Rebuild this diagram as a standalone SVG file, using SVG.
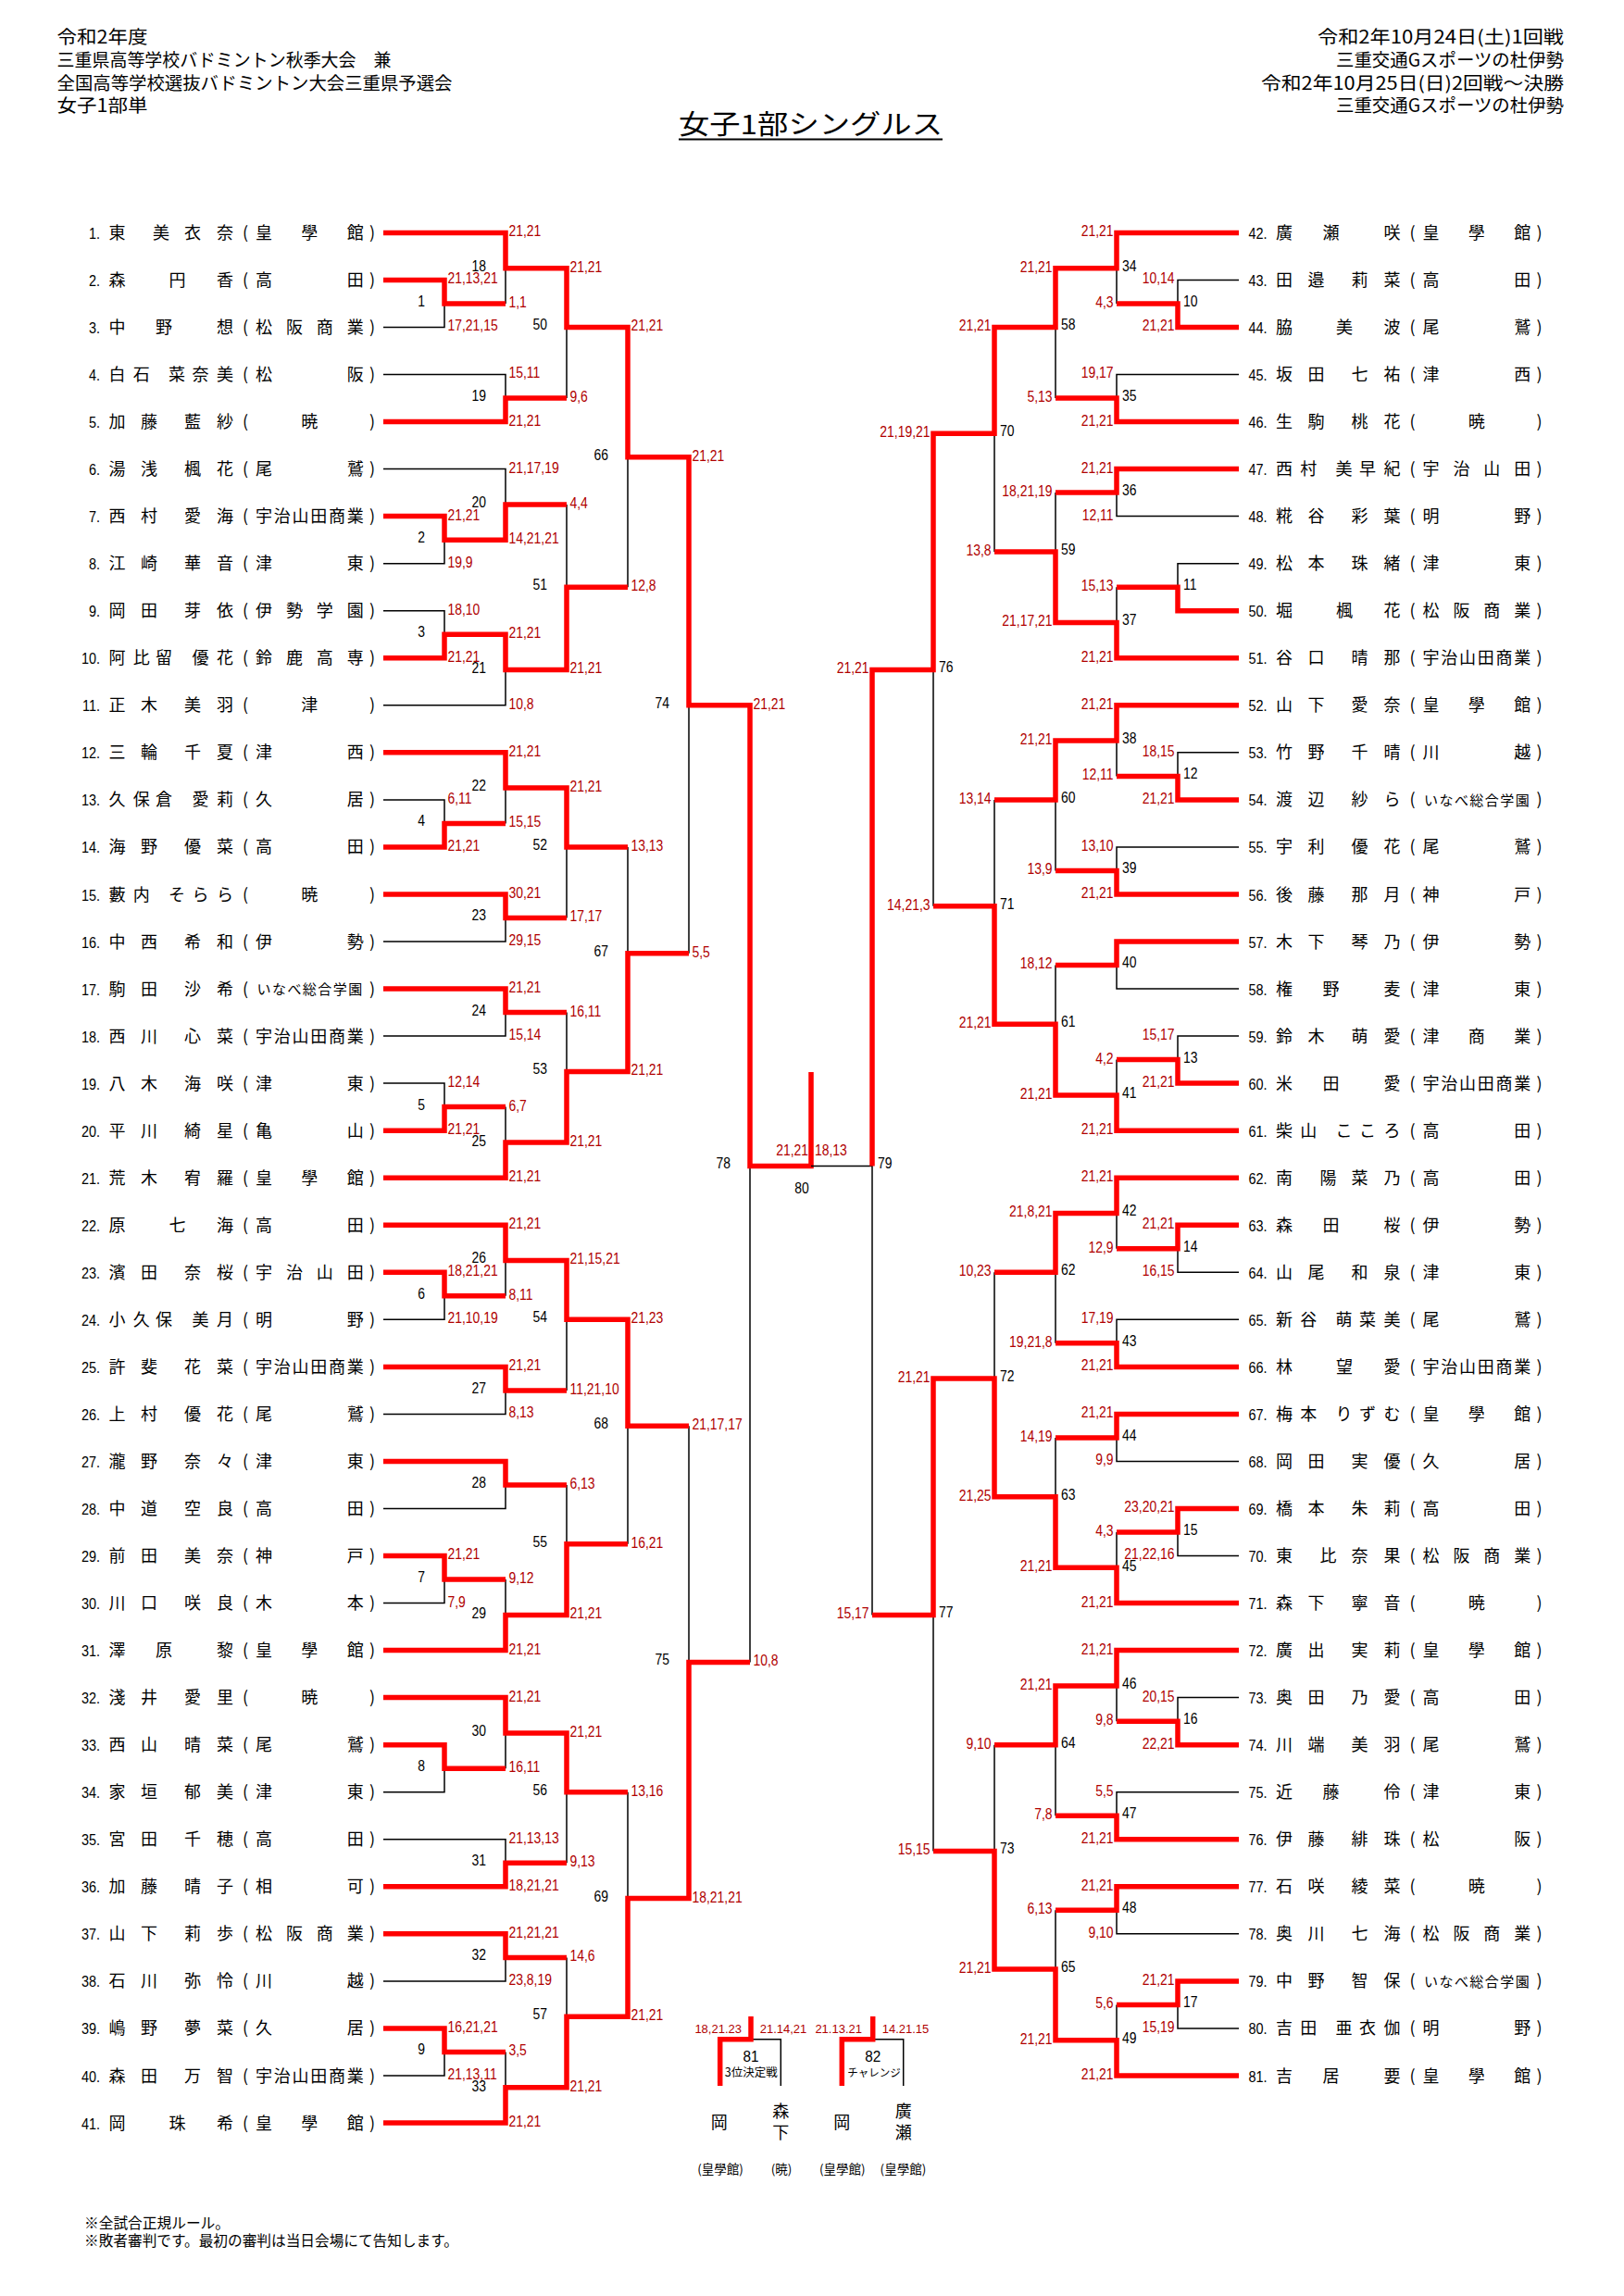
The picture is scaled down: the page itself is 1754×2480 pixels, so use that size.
<svg xmlns="http://www.w3.org/2000/svg" width="1754" height="2480" viewBox="0 0 1754 2480">
<style>
text{font-family:"Noto Sans CJK JP","Noto Sans CJK SC",sans-serif;fill:#000}
.hd{font-size:19.5px}
.nm{font-size:18px;text-anchor:middle}
.sm{font-size:15px}
.no{font-family:"Liberation Sans",Arial,sans-serif;font-size:17px;text-anchor:end}
.sc text{font-family:"Liberation Sans",Arial,sans-serif;font-size:17px;fill:#b00000}
.mn text{font-family:"Liberation Sans",Arial,sans-serif;font-size:17px;fill:#000}
.e text{text-anchor:end}
.k{fill:none;stroke:#000;stroke-width:1.5}
.r{fill:none;stroke:#ff0000;stroke-width:5.5;stroke-linejoin:miter}
.ms{font-family:"Liberation Sans",Arial,sans-serif;font-size:13px;fill:#b00000}
</style>
<rect width="1754" height="2480" fill="#fff"/>
<g id="header">
<text class="hd" x="61.5" y="47.4" textLength="98" lengthAdjust="spacingAndGlyphs">令和2年度</text>
<text class="hd" x="61.5" y="72.4" textLength="361" lengthAdjust="spacingAndGlyphs">三重県高等学校バドミントン秋季大会　兼</text>
<text class="hd" x="61.5" y="96.9" textLength="427" lengthAdjust="spacingAndGlyphs">全国高等学校選抜バドミントン大会三重県予選会</text>
<text class="hd" x="61.5" y="121.4" textLength="98" lengthAdjust="spacingAndGlyphs">女子1部単</text>
<text class="hd" x="1423" y="47.4" textLength="266" lengthAdjust="spacingAndGlyphs">令和2年10月24日(土)1回戦</text>
<text class="hd" x="1443" y="72.4" textLength="246" lengthAdjust="spacingAndGlyphs">三重交通Gスポーツの杜伊勢</text>
<text class="hd" x="1362" y="96.9" textLength="327" lengthAdjust="spacingAndGlyphs">令和2年10月25日(日)2回戦～決勝</text>
<text class="hd" x="1443" y="121.4" textLength="246" lengthAdjust="spacingAndGlyphs">三重交通Gスポーツの杜伊勢</text>
<text x="733" y="144.5" font-size="29" textLength="285" lengthAdjust="spacingAndGlyphs">女子1部シングルス</text>
<line x1="733" y1="150.5" x2="1018" y2="150.5" stroke="#000" stroke-width="2"/>
</g>
<g id="connectors">
<g id="left-lines">
<path class="k" d="M414,353.5H480V328M414,608.7H480V583.2M414,659.7H480V685.2M414,863.9H480V889.4M414,1170.1H480V1195.6M414,1425.3H480V1399.8M414,1731.6H480V1706M414,1935.7H480V1910.2M414,2242H480V2216.4M546,328V289.7M414,404.5H546V430M414,506.6H546V544.9M414,761.8H546V723.5M546,889.4V851.1M414,1017H546V991.5M414,1119.1H546V1093.6M546,1195.6V1233.9M546,1399.8V1361.5M414,1527.4H546V1501.9M414,1629.5H546V1604M546,1706V1744.4M546,1910.2V1871.9M414,1986.8H546V2012.3M414,2139.9H546V2114.4M546,2216.4V2254.7M612,430V353.5M612,544.9V634.2M612,991.5V914.9M612,1093.6V1157.4M612,1501.9V1425.3M612,1604V1667.8M612,2012.3V1935.7M612,2114.4V2178.2M678,634.2V493.8M678,914.9V1029.8M678,1667.8V1540.2M678,1935.7V2050.6M744,1029.8V761.8M744,1540.2V1795.4M810,1795.4V1259.5"/>
<path class="r" d="M414,302.4H480V328H546M414,557.6H480V583.2H546M414,710.8H480V685.2H546M414,914.9H480V889.4H546M414,1221.2H480V1195.6H546M414,1374.3H480V1399.8H546M414,1680.5H480V1706H546M414,1884.7H480V1910.2H546M414,2190.9H480V2216.4H546M414,251.4H546V289.7H612M414,455.6H546V430H612M480,583.2H546V544.9H612M480,685.2H546V723.5H612M414,812.8H546V851.1H612M414,966H546V991.5H612M414,1068H546V1093.6H612M414,1272.2H546V1233.9H612M414,1323.2H546V1361.5H612M414,1476.4H546V1501.9H612M414,1578.4H546V1604H612M414,1782.6H546V1744.4H612M414,1833.6H546V1871.9H612M414,2037.8H546V2012.3H612M414,2088.8H546V2114.4H612M414,2293H546V2254.7H612M546,289.7H612V353.5H678M546,723.5H612V634.2H678M546,851.1H612V914.9H678M546,1233.9H612V1157.4H678M546,1361.5H612V1425.3H678M546,1744.4H612V1667.8H678M546,1871.9H612V1935.7H678M546,2254.7H612V2178.2H678M612,353.5H678V493.8H744M612,1157.4H678V1029.8H744M612,1425.3H678V1540.2H744M612,2178.2H678V2050.6H744M678,493.8H744V761.8H810M678,2050.6H744V1795.4H810M744,761.8H810V1259.5H876V1158"/>
</g>
<g id="right-lines" transform="matrix(-1 0 0 1 1752 0)">
<path class="k" d="M414,302.4H480V328M414,608.7H480V634.2M414,812.8H480V838.4M414,1119.1H480V1144.6M414,1374.3H480V1348.8M414,1680.5H480V1655M414,1833.6H480V1859.2M414,2190.9H480V2165.4M546,328V289.7M414,404.5H546V430M414,557.6H546V532.1M546,634.2V672.5M546,838.4V800.1M414,914.9H546V940.4M414,1068H546V1042.5M546,1144.6V1182.9M546,1348.8V1310.5M414,1425.3H546V1450.8M414,1578.4H546V1552.9M546,1655V1693.3M546,1859.2V1820.9M414,1935.7H546V1961.2M414,2088.8H546V2063.3M546,2165.4V2203.7M612,430V353.5M612,532.1V595.9M612,940.4V863.9M612,1042.5V1106.3M612,1450.8V1374.3M612,1552.9V1616.7M612,1961.2V1884.7M612,2063.3V2127.1M678,595.9V468.3M678,863.9V978.7M678,1374.3V1489.1M678,1884.7V1999.5M744,978.7V723.5M744,1999.5V1744.4M810,1744.4V1259.5H876"/>
<path class="r" d="M414,353.5H480V328H546M414,659.7H480V634.2H546M414,863.9H480V838.4H546M414,1170.1H480V1144.6H546M414,1323.2H480V1348.8H546M414,1629.5H480V1655H546M414,1884.7H480V1859.2H546M414,2139.9H480V2165.4H546M414,251.4H546V289.7H612M414,455.6H546V430H612M414,506.6H546V532.1H612M414,710.8H546V672.5H612M414,761.8H546V800.1H612M414,966H546V940.4H612M414,1017H546V1042.5H612M414,1221.2H546V1182.9H612M414,1272.2H546V1310.5H612M414,1476.4H546V1450.8H612M414,1527.4H546V1552.9H612M414,1731.6H546V1693.3H612M414,1782.6H546V1820.9H612M414,1986.8H546V1961.2H612M414,2037.8H546V2063.3H612M414,2242H546V2203.7H612M546,289.7H612V353.5H678M546,672.5H612V595.9H678M546,800.1H612V863.9H678M546,1182.9H612V1106.3H678M546,1310.5H612V1374.3H678M546,1693.3H612V1616.7H678M546,1820.9H612V1884.7H678M546,2203.7H612V2127.1H678M612,353.5H678V468.3H744M612,1106.3H678V978.7H744M612,1616.7H678V1489.1H744M612,2127.1H678V1999.5H744M678,468.3H744V723.5H810M678,1489.1H744V1744.4H810M744,723.5H810V1259.5"/>
</g>
<g id="playoff-lines">
<path class="k" d="M811,2202.7H843.3V2253M942.7,2202.7H975.7V2253"/>
<path class="r" d="M777.7,2253V2202.7H811V2178M909.3,2253V2202.7H942.7V2178"/>
</g>
</g>
<g id="scores">
<g class="sc" transform="translate(483.5 0) scale(.82 1)"><text y="306.4">21,13,21</text><text y="357.5">17,21,15</text><text y="561.6">21,21</text><text y="612.7">19,9</text><text y="663.7">18,10</text><text y="714.8">21,21</text><text y="867.9">6,11</text><text y="918.9">21,21</text><text y="1174.1">12,14</text><text y="1225.2">21,21</text><text y="1378.3">18,21,21</text><text y="1429.3">21,10,19</text><text y="1684.5">21,21</text><text y="1735.6">7,9</text><text y="2194.9">16,21,21</text><text y="2246">21,13,11</text></g>
<g class="sc" transform="translate(549.5 0) scale(.82 1)"><text y="255.4">21,21</text><text y="332">1,1</text><text y="408.5">15,11</text><text y="459.6">21,21</text><text y="510.6">21,17,19</text><text y="587.2">14,21,21</text><text y="689.2">21,21</text><text y="765.8">10,8</text><text y="816.8">21,21</text><text y="893.4">15,15</text><text y="970">30,21</text><text y="1021">29,15</text><text y="1072">21,21</text><text y="1123.1">15,14</text><text y="1199.6">6,7</text><text y="1276.2">21,21</text><text y="1327.2">21,21</text><text y="1403.8">8,11</text><text y="1480.4">21,21</text><text y="1531.4">8,13</text><text y="1710">9,12</text><text y="1786.6">21,21</text><text y="1837.6">21,21</text><text y="1914.2">16,11</text><text y="1990.8">21,13,13</text><text y="2041.8">18,21,21</text><text y="2092.8">21,21,21</text><text y="2143.9">23,8,19</text><text y="2220.4">3,5</text><text y="2297">21,21</text></g>
<g class="sc" transform="translate(615.5 0) scale(.82 1)"><text y="293.7">21,21</text><text y="434">9,6</text><text y="548.9">4,4</text><text y="727.5">21,21</text><text y="855.1">21,21</text><text y="995.5">17,17</text><text y="1097.6">16,11</text><text y="1237.9">21,21</text><text y="1365.5">21,15,21</text><text y="1505.9">11,21,10</text><text y="1608">6,13</text><text y="1748.4">21,21</text><text y="1875.9">21,21</text><text y="2016.3">9,13</text><text y="2118.4">14,6</text><text y="2258.7">21,21</text></g>
<g class="sc" transform="translate(681.5 0) scale(.82 1)"><text y="357.5">21,21</text><text y="638.2">12,8</text><text y="918.9">13,13</text><text y="1161.4">21,21</text><text y="1429.3">21,23</text><text y="1671.8">16,21</text><text y="1939.7">13,16</text><text y="2182.2">21,21</text></g>
<g class="sc" transform="translate(747.5 0) scale(.82 1)"><text y="497.8">21,21</text><text y="1033.8">5,5</text><text y="1544.2">21,17,17</text><text y="2054.6">18,21,21</text></g>
<g class="sc" transform="translate(813.5 0) scale(.82 1)"><text y="765.8">21,21</text><text y="1799.4">10,8</text></g>
<g class="sc e" transform="translate(1268.5 0) scale(.82 1)"><text y="306.4">10,14</text><text y="357.5">21,21</text><text y="816.8">18,15</text><text y="867.9">21,21</text><text y="1123.1">15,17</text><text y="1174.1">21,21</text><text y="1327.2">21,21</text><text y="1378.3">16,15</text><text y="1633.5">23,20,21</text><text y="1684.5">21,22,16</text><text y="1837.6">20,15</text><text y="1888.7">22,21</text><text y="2143.9">21,21</text><text y="2194.9">15,19</text></g>
<g class="sc e" transform="translate(1202.5 0) scale(.82 1)"><text y="255.4">21,21</text><text y="332">4,3</text><text y="408.5">19,17</text><text y="459.6">21,21</text><text y="510.6">21,21</text><text y="561.6">12,11</text><text y="638.2">15,13</text><text y="714.8">21,21</text><text y="765.8">21,21</text><text y="842.4">12,11</text><text y="918.9">13,10</text><text y="970">21,21</text><text y="1148.6">4,2</text><text y="1225.2">21,21</text><text y="1276.2">21,21</text><text y="1352.8">12,9</text><text y="1429.3">17,19</text><text y="1480.4">21,21</text><text y="1531.4">21,21</text><text y="1582.4">9,9</text><text y="1659">4,3</text><text y="1735.6">21,21</text><text y="1786.6">21,21</text><text y="1863.2">9,8</text><text y="1939.7">5,5</text><text y="1990.8">21,21</text><text y="2041.8">21,21</text><text y="2092.8">9,10</text><text y="2169.4">5,6</text><text y="2246">21,21</text></g>
<g class="sc e" transform="translate(1136.5 0) scale(.82 1)"><text y="293.7">21,21</text><text y="434">5,13</text><text y="536.1">18,21,19</text><text y="676.5">21,17,21</text><text y="804.1">21,21</text><text y="944.4">13,9</text><text y="1046.5">18,12</text><text y="1186.9">21,21</text><text y="1314.5">21,8,21</text><text y="1454.8">19,21,8</text><text y="1556.9">14,19</text><text y="1697.3">21,21</text><text y="1824.9">21,21</text><text y="1965.2">7,8</text><text y="2067.3">6,13</text><text y="2207.7">21,21</text></g>
<g class="sc e" transform="translate(1070.5 0) scale(.82 1)"><text y="357.5">21,21</text><text y="599.9">13,8</text><text y="867.9">13,14</text><text y="1110.3">21,21</text><text y="1378.3">10,23</text><text y="1620.7">21,25</text><text y="1888.7">9,10</text><text y="2131.1">21,21</text></g>
<g class="sc e" transform="translate(1004.5 0) scale(.82 1)"><text y="472.3">21,19,21</text><text y="982.7">14,21,3</text><text y="1493.1">21,21</text><text y="2003.5">15,15</text></g>
<g class="sc e" transform="translate(938.5 0) scale(.82 1)"><text y="727.5">21,21</text><text y="1748.4">15,17</text></g>
<g class="sc e" transform="translate(873 0) scale(.82 1)"><text y="1248">21,21</text></g>
<g class="sc" transform="translate(880 0) scale(.82 1)"><text y="1248">18,13</text></g>
<text class="ms" x="801" y="2195.5" text-anchor="end">18,21.23</text>
<text class="ms" x="820.7" y="2195.5">21.14,21</text>
<text class="ms" x="931" y="2195.5" text-anchor="end">21.13.21</text>
<text class="ms" x="952.7" y="2195.5">14.21.15</text>
</g>
<g id="match-numbers">
<g class="mn e" transform="translate(459 0) scale(.82 1)"><text y="331">1</text><text y="586.2">2</text><text y="688.2">3</text><text y="892.4">4</text><text y="1198.6">5</text><text y="1402.8">6</text><text y="1709">7</text><text y="1913.2">8</text><text y="2219.4">9</text></g>
<g class="mn e" transform="translate(525 0) scale(.82 1)"><text y="292.7">18</text><text y="433">19</text><text y="547.9">20</text><text y="727.5">21</text><text y="854.1">22</text><text y="994.5">23</text><text y="1096.6">24</text><text y="1237.9">25</text><text y="1364.5">26</text><text y="1504.9">27</text><text y="1607">28</text><text y="1748.4">29</text><text y="1874.9">30</text><text y="2015.3">31</text><text y="2117.4">32</text><text y="2258.7">33</text></g>
<g class="mn e" transform="translate(591 0) scale(.82 1)"><text y="356.5">50</text><text y="637.2">51</text><text y="917.9">52</text><text y="1160.4">53</text><text y="1428.3">54</text><text y="1670.8">55</text><text y="1938.7">56</text><text y="2181.2">57</text></g>
<g class="mn e" transform="translate(657 0) scale(.82 1)"><text y="496.8">66</text><text y="1032.8">67</text><text y="1543.2">68</text><text y="2053.6">69</text></g>
<g class="mn e" transform="translate(723 0) scale(.82 1)"><text y="764.8">74</text><text y="1798.4">75</text></g>
<g class="mn e" transform="translate(789 0) scale(.82 1)"><text y="1262.5">78</text></g>
<g class="mn" transform="translate(1278 0) scale(.82 1)"><text y="331">10</text><text y="637.2">11</text><text y="841.4">12</text><text y="1147.6">13</text><text y="1351.8">14</text><text y="1658">15</text><text y="1862.2">16</text><text y="2168.4">17</text></g>
<g class="mn" transform="translate(1212 0) scale(.82 1)"><text y="292.7">34</text><text y="433">35</text><text y="535.1">36</text><text y="675.5">37</text><text y="803.1">38</text><text y="943.4">39</text><text y="1045.5">40</text><text y="1185.9">41</text><text y="1313.5">42</text><text y="1453.8">43</text><text y="1555.9">44</text><text y="1697.3">45</text><text y="1823.9">46</text><text y="1964.2">47</text><text y="2066.3">48</text><text y="2206.7">49</text></g>
<g class="mn" transform="translate(1146 0) scale(.82 1)"><text y="356.5">58</text><text y="598.9">59</text><text y="866.9">60</text><text y="1109.3">61</text><text y="1377.3">62</text><text y="1619.7">63</text><text y="1887.7">64</text><text y="2130.1">65</text></g>
<g class="mn" transform="translate(1080 0) scale(.82 1)"><text y="471.3">70</text><text y="981.7">71</text><text y="1492.1">72</text><text y="2002.5">73</text></g>
<g class="mn" transform="translate(1014 0) scale(.82 1)"><text y="726.5">76</text><text y="1747.4">77</text></g>
<g class="mn" transform="translate(948 0) scale(.82 1)"><text y="1262.5">79</text></g>
<g class="mn" transform="translate(866 0) scale(.82 1)"><text y="1289" text-anchor="middle">80</text></g>
<g class="mn" transform="translate(811 0) scale(.9 1)"><text y="2227" text-anchor="middle" font-size="16">81</text></g>
<g class="mn" transform="translate(942.7 0) scale(.9 1)"><text y="2227" text-anchor="middle" font-size="16">82</text></g>
<text x="811.3" y="2243" font-size="12.5" text-anchor="middle">3位決定戦</text>
<text x="944" y="2243" font-size="11.5" text-anchor="middle">チャレンジ</text>
</g>
<g id="players-left">
<g id="p1" transform="translate(0 251.4)"><text class="no" transform="translate(108 6.5) scale(.85 1)">1.</text><text class="nm" x="126.6 174 208 243" y="6.5">東美衣奈</text><text class="nm" x="265 285 334.35 383.7 402" y="6.5">(皇學館)</text></g>
<g id="p2" transform="translate(0 302.4)"><text class="no" transform="translate(108 6.5) scale(.85 1)">2.</text><text class="nm" x="126.6 191.5 243" y="6.5">森円香</text><text class="nm" x="265 285 383.7 402" y="6.5">(高田)</text></g>
<g id="p3" transform="translate(0 353.5)"><text class="no" transform="translate(108 6.5) scale(.85 1)">3.</text><text class="nm" x="126.6 177 243" y="6.5">中野想</text><text class="nm" x="265 285 317.9 350.8 383.7 402" y="6.5">(松阪商業)</text></g>
<g id="p4" transform="translate(0 404.5)"><text class="no" transform="translate(108 6.5) scale(.85 1)">4.</text><text class="nm" x="126.6 152.7 191 216.5 243" y="6.5">白石菜奈美</text><text class="nm" x="265 285 383.7 402" y="6.5">(松阪)</text></g>
<g id="p5" transform="translate(0 455.6)"><text class="no" transform="translate(108 6.5) scale(.85 1)">5.</text><text class="nm" x="126.6 161 208 243" y="6.5">加藤藍紗</text><text class="nm" x="265 334.35 402" y="6.5">(暁)</text></g>
<g id="p6" transform="translate(0 506.6)"><text class="no" transform="translate(108 6.5) scale(.85 1)">6.</text><text class="nm" x="126.6 161 208 243" y="6.5">湯浅楓花</text><text class="nm" x="265 285 383.7 402" y="6.5">(尾鷲)</text></g>
<g id="p7" transform="translate(0 557.6)"><text class="no" transform="translate(108 6.5) scale(.85 1)">7.</text><text class="nm" x="126.6 161 208 243" y="6.5">西村愛海</text><text class="nm" x="265 285 304.7 324.5 344.2 363.9 383.7 402" y="6.5">(宇治山田商業)</text></g>
<g id="p8" transform="translate(0 608.7)"><text class="no" transform="translate(108 6.5) scale(.85 1)">8.</text><text class="nm" x="126.6 161 208 243" y="6.5">江崎華音</text><text class="nm" x="265 285 383.7 402" y="6.5">(津東)</text></g>
<g id="p9" transform="translate(0 659.7)"><text class="no" transform="translate(108 6.5) scale(.85 1)">9.</text><text class="nm" x="126.6 161 208 243" y="6.5">岡田芽依</text><text class="nm" x="265 285 317.9 350.8 383.7 402" y="6.5">(伊勢学園)</text></g>
<g id="p10" transform="translate(0 710.8)"><text class="no" transform="translate(108 6.5) scale(.85 1)">10.</text><text class="nm" x="126.6 152.7 177 216.5 243" y="6.5">阿比留優花</text><text class="nm" x="265 285 317.9 350.8 383.7 402" y="6.5">(鈴鹿高専)</text></g>
<g id="p11" transform="translate(0 761.8)"><text class="no" transform="translate(108 6.5) scale(.85 1)">11.</text><text class="nm" x="126.6 161 208 243" y="6.5">正木美羽</text><text class="nm" x="265 334.35 402" y="6.5">(津)</text></g>
<g id="p12" transform="translate(0 812.8)"><text class="no" transform="translate(108 6.5) scale(.85 1)">12.</text><text class="nm" x="126.6 161 208 243" y="6.5">三輪千夏</text><text class="nm" x="265 285 383.7 402" y="6.5">(津西)</text></g>
<g id="p13" transform="translate(0 863.9)"><text class="no" transform="translate(108 6.5) scale(.85 1)">13.</text><text class="nm" x="126.6 152.7 177 216.5 243" y="6.5">久保倉愛莉</text><text class="nm" x="265 285 383.7 402" y="6.5">(久居)</text></g>
<g id="p14" transform="translate(0 914.9)"><text class="no" transform="translate(108 6.5) scale(.85 1)">14.</text><text class="nm" x="126.6 161 208 243" y="6.5">海野優菜</text><text class="nm" x="265 285 383.7 402" y="6.5">(高田)</text></g>
<g id="p15" transform="translate(0 966)"><text class="no" transform="translate(108 6.5) scale(.85 1)">15.</text><text class="nm" x="126.6 152.7 191 216.5 243" y="6.5">藪内そらら</text><text class="nm" x="265 334.35 402" y="6.5">(暁)</text></g>
<g id="p16" transform="translate(0 1017)"><text class="no" transform="translate(108 6.5) scale(.85 1)">16.</text><text class="nm" x="126.6 161 208 243" y="6.5">中西希和</text><text class="nm" x="265 285 383.7 402" y="6.5">(伊勢)</text></g>
<g id="p17" transform="translate(0 1068)"><text class="no" transform="translate(108 6.5) scale(.85 1)">17.</text><text class="nm" x="126.6 161 208 243" y="6.5">駒田沙希</text><text class="nm" x="265" y="6.5">(</text><text class="nm sm" x="285 301.45 317.9 334.35 350.8 367.25 383.7" y="5.8">いなべ総合学園</text><text class="nm" x="402" y="6.5">)</text></g>
<g id="p18" transform="translate(0 1119.1)"><text class="no" transform="translate(108 6.5) scale(.85 1)">18.</text><text class="nm" x="126.6 161 208 243" y="6.5">西川心菜</text><text class="nm" x="265 285 304.7 324.5 344.2 363.9 383.7 402" y="6.5">(宇治山田商業)</text></g>
<g id="p19" transform="translate(0 1170.1)"><text class="no" transform="translate(108 6.5) scale(.85 1)">19.</text><text class="nm" x="126.6 161 208 243" y="6.5">八木海咲</text><text class="nm" x="265 285 383.7 402" y="6.5">(津東)</text></g>
<g id="p20" transform="translate(0 1221.2)"><text class="no" transform="translate(108 6.5) scale(.85 1)">20.</text><text class="nm" x="126.6 161 208 243" y="6.5">平川綺星</text><text class="nm" x="265 285 383.7 402" y="6.5">(亀山)</text></g>
<g id="p21" transform="translate(0 1272.2)"><text class="no" transform="translate(108 6.5) scale(.85 1)">21.</text><text class="nm" x="126.6 161 208 243" y="6.5">荒木宥羅</text><text class="nm" x="265 285 334.35 383.7 402" y="6.5">(皇學館)</text></g>
<g id="p22" transform="translate(0 1323.2)"><text class="no" transform="translate(108 6.5) scale(.85 1)">22.</text><text class="nm" x="126.6 191.5 243" y="6.5">原七海</text><text class="nm" x="265 285 383.7 402" y="6.5">(高田)</text></g>
<g id="p23" transform="translate(0 1374.3)"><text class="no" transform="translate(108 6.5) scale(.85 1)">23.</text><text class="nm" x="126.6 161 208 243" y="6.5">濱田奈桜</text><text class="nm" x="265 285 317.9 350.8 383.7 402" y="6.5">(宇治山田)</text></g>
<g id="p24" transform="translate(0 1425.3)"><text class="no" transform="translate(108 6.5) scale(.85 1)">24.</text><text class="nm" x="126.6 152.7 177 216.5 243" y="6.5">小久保美月</text><text class="nm" x="265 285 383.7 402" y="6.5">(明野)</text></g>
<g id="p25" transform="translate(0 1476.4)"><text class="no" transform="translate(108 6.5) scale(.85 1)">25.</text><text class="nm" x="126.6 161 208 243" y="6.5">許斐花菜</text><text class="nm" x="265 285 304.7 324.5 344.2 363.9 383.7 402" y="6.5">(宇治山田商業)</text></g>
<g id="p26" transform="translate(0 1527.4)"><text class="no" transform="translate(108 6.5) scale(.85 1)">26.</text><text class="nm" x="126.6 161 208 243" y="6.5">上村優花</text><text class="nm" x="265 285 383.7 402" y="6.5">(尾鷲)</text></g>
<g id="p27" transform="translate(0 1578.4)"><text class="no" transform="translate(108 6.5) scale(.85 1)">27.</text><text class="nm" x="126.6 161 208 243" y="6.5">瀧野奈々</text><text class="nm" x="265 285 383.7 402" y="6.5">(津東)</text></g>
<g id="p28" transform="translate(0 1629.5)"><text class="no" transform="translate(108 6.5) scale(.85 1)">28.</text><text class="nm" x="126.6 161 208 243" y="6.5">中道空良</text><text class="nm" x="265 285 383.7 402" y="6.5">(高田)</text></g>
<g id="p29" transform="translate(0 1680.5)"><text class="no" transform="translate(108 6.5) scale(.85 1)">29.</text><text class="nm" x="126.6 161 208 243" y="6.5">前田美奈</text><text class="nm" x="265 285 383.7 402" y="6.5">(神戸)</text></g>
<g id="p30" transform="translate(0 1731.6)"><text class="no" transform="translate(108 6.5) scale(.85 1)">30.</text><text class="nm" x="126.6 161 208 243" y="6.5">川口咲良</text><text class="nm" x="265 285 383.7 402" y="6.5">(木本)</text></g>
<g id="p31" transform="translate(0 1782.6)"><text class="no" transform="translate(108 6.5) scale(.85 1)">31.</text><text class="nm" x="126.6 177 243" y="6.5">澤原黎</text><text class="nm" x="265 285 334.35 383.7 402" y="6.5">(皇學館)</text></g>
<g id="p32" transform="translate(0 1833.6)"><text class="no" transform="translate(108 6.5) scale(.85 1)">32.</text><text class="nm" x="126.6 161 208 243" y="6.5">淺井愛里</text><text class="nm" x="265 334.35 402" y="6.5">(暁)</text></g>
<g id="p33" transform="translate(0 1884.7)"><text class="no" transform="translate(108 6.5) scale(.85 1)">33.</text><text class="nm" x="126.6 161 208 243" y="6.5">西山晴菜</text><text class="nm" x="265 285 383.7 402" y="6.5">(尾鷲)</text></g>
<g id="p34" transform="translate(0 1935.7)"><text class="no" transform="translate(108 6.5) scale(.85 1)">34.</text><text class="nm" x="126.6 161 208 243" y="6.5">家垣郁美</text><text class="nm" x="265 285 383.7 402" y="6.5">(津東)</text></g>
<g id="p35" transform="translate(0 1986.8)"><text class="no" transform="translate(108 6.5) scale(.85 1)">35.</text><text class="nm" x="126.6 161 208 243" y="6.5">宮田千穂</text><text class="nm" x="265 285 383.7 402" y="6.5">(高田)</text></g>
<g id="p36" transform="translate(0 2037.8)"><text class="no" transform="translate(108 6.5) scale(.85 1)">36.</text><text class="nm" x="126.6 161 208 243" y="6.5">加藤晴子</text><text class="nm" x="265 285 383.7 402" y="6.5">(相可)</text></g>
<g id="p37" transform="translate(0 2088.8)"><text class="no" transform="translate(108 6.5) scale(.85 1)">37.</text><text class="nm" x="126.6 161 208 243" y="6.5">山下莉歩</text><text class="nm" x="265 285 317.9 350.8 383.7 402" y="6.5">(松阪商業)</text></g>
<g id="p38" transform="translate(0 2139.9)"><text class="no" transform="translate(108 6.5) scale(.85 1)">38.</text><text class="nm" x="126.6 161 208 243" y="6.5">石川弥怜</text><text class="nm" x="265 285 383.7 402" y="6.5">(川越)</text></g>
<g id="p39" transform="translate(0 2190.9)"><text class="no" transform="translate(108 6.5) scale(.85 1)">39.</text><text class="nm" x="126.6 161 208 243" y="6.5">嶋野夢菜</text><text class="nm" x="265 285 383.7 402" y="6.5">(久居)</text></g>
<g id="p40" transform="translate(0 2242)"><text class="no" transform="translate(108 6.5) scale(.85 1)">40.</text><text class="nm" x="126.6 161 208 243" y="6.5">森田万智</text><text class="nm" x="265 285 304.7 324.5 344.2 363.9 383.7 402" y="6.5">(宇治山田商業)</text></g>
<g id="p41" transform="translate(0 2293)"><text class="no" transform="translate(108 6.5) scale(.85 1)">41.</text><text class="nm" x="126.6 191.5 243" y="6.5">岡珠希</text><text class="nm" x="265 285 334.35 383.7 402" y="6.5">(皇學館)</text></g>
</g>
<g id="players-right">
<g id="p42" transform="translate(1260.5 251.4)"><text class="no" transform="translate(108 6.5) scale(.85 1)">42.</text><text class="nm" x="126.6 177 243" y="6.5">廣瀬咲</text><text class="nm" x="265 285 334.35 383.7 402" y="6.5">(皇學館)</text></g>
<g id="p43" transform="translate(1260.5 302.4)"><text class="no" transform="translate(108 6.5) scale(.85 1)">43.</text><text class="nm" x="126.6 161 208 243" y="6.5">田邉莉菜</text><text class="nm" x="265 285 383.7 402" y="6.5">(高田)</text></g>
<g id="p44" transform="translate(1260.5 353.5)"><text class="no" transform="translate(108 6.5) scale(.85 1)">44.</text><text class="nm" x="126.6 191.5 243" y="6.5">脇美波</text><text class="nm" x="265 285 383.7 402" y="6.5">(尾鷲)</text></g>
<g id="p45" transform="translate(1260.5 404.5)"><text class="no" transform="translate(108 6.5) scale(.85 1)">45.</text><text class="nm" x="126.6 161 208 243" y="6.5">坂田七祐</text><text class="nm" x="265 285 383.7 402" y="6.5">(津西)</text></g>
<g id="p46" transform="translate(1260.5 455.6)"><text class="no" transform="translate(108 6.5) scale(.85 1)">46.</text><text class="nm" x="126.6 161 208 243" y="6.5">生駒桃花</text><text class="nm" x="265 334.35 402" y="6.5">(暁)</text></g>
<g id="p47" transform="translate(1260.5 506.6)"><text class="no" transform="translate(108 6.5) scale(.85 1)">47.</text><text class="nm" x="126.6 152.7 191 216.5 243" y="6.5">西村美早紀</text><text class="nm" x="265 285 317.9 350.8 383.7 402" y="6.5">(宇治山田)</text></g>
<g id="p48" transform="translate(1260.5 557.6)"><text class="no" transform="translate(108 6.5) scale(.85 1)">48.</text><text class="nm" x="126.6 161 208 243" y="6.5">糀谷彩葉</text><text class="nm" x="265 285 383.7 402" y="6.5">(明野)</text></g>
<g id="p49" transform="translate(1260.5 608.7)"><text class="no" transform="translate(108 6.5) scale(.85 1)">49.</text><text class="nm" x="126.6 161 208 243" y="6.5">松本珠緒</text><text class="nm" x="265 285 383.7 402" y="6.5">(津東)</text></g>
<g id="p50" transform="translate(1260.5 659.7)"><text class="no" transform="translate(108 6.5) scale(.85 1)">50.</text><text class="nm" x="126.6 191.5 243" y="6.5">堀楓花</text><text class="nm" x="265 285 317.9 350.8 383.7 402" y="6.5">(松阪商業)</text></g>
<g id="p51" transform="translate(1260.5 710.8)"><text class="no" transform="translate(108 6.5) scale(.85 1)">51.</text><text class="nm" x="126.6 161 208 243" y="6.5">谷口晴那</text><text class="nm" x="265 285 304.7 324.5 344.2 363.9 383.7 402" y="6.5">(宇治山田商業)</text></g>
<g id="p52" transform="translate(1260.5 761.8)"><text class="no" transform="translate(108 6.5) scale(.85 1)">52.</text><text class="nm" x="126.6 161 208 243" y="6.5">山下愛奈</text><text class="nm" x="265 285 334.35 383.7 402" y="6.5">(皇學館)</text></g>
<g id="p53" transform="translate(1260.5 812.8)"><text class="no" transform="translate(108 6.5) scale(.85 1)">53.</text><text class="nm" x="126.6 161 208 243" y="6.5">竹野千晴</text><text class="nm" x="265 285 383.7 402" y="6.5">(川越)</text></g>
<g id="p54" transform="translate(1260.5 863.9)"><text class="no" transform="translate(108 6.5) scale(.85 1)">54.</text><text class="nm" x="126.6 161 208 243" y="6.5">渡辺紗ら</text><text class="nm" x="265" y="6.5">(</text><text class="nm sm" x="285 301.45 317.9 334.35 350.8 367.25 383.7" y="5.8">いなべ総合学園</text><text class="nm" x="402" y="6.5">)</text></g>
<g id="p55" transform="translate(1260.5 914.9)"><text class="no" transform="translate(108 6.5) scale(.85 1)">55.</text><text class="nm" x="126.6 161 208 243" y="6.5">宇利優花</text><text class="nm" x="265 285 383.7 402" y="6.5">(尾鷲)</text></g>
<g id="p56" transform="translate(1260.5 966)"><text class="no" transform="translate(108 6.5) scale(.85 1)">56.</text><text class="nm" x="126.6 161 208 243" y="6.5">後藤那月</text><text class="nm" x="265 285 383.7 402" y="6.5">(神戸)</text></g>
<g id="p57" transform="translate(1260.5 1017)"><text class="no" transform="translate(108 6.5) scale(.85 1)">57.</text><text class="nm" x="126.6 161 208 243" y="6.5">木下琴乃</text><text class="nm" x="265 285 383.7 402" y="6.5">(伊勢)</text></g>
<g id="p58" transform="translate(1260.5 1068)"><text class="no" transform="translate(108 6.5) scale(.85 1)">58.</text><text class="nm" x="126.6 177 243" y="6.5">権野麦</text><text class="nm" x="265 285 383.7 402" y="6.5">(津東)</text></g>
<g id="p59" transform="translate(1260.5 1119.1)"><text class="no" transform="translate(108 6.5) scale(.85 1)">59.</text><text class="nm" x="126.6 161 208 243" y="6.5">鈴木萌愛</text><text class="nm" x="265 285 334.35 383.7 402" y="6.5">(津商業)</text></g>
<g id="p60" transform="translate(1260.5 1170.1)"><text class="no" transform="translate(108 6.5) scale(.85 1)">60.</text><text class="nm" x="126.6 177 243" y="6.5">米田愛</text><text class="nm" x="265 285 304.7 324.5 344.2 363.9 383.7 402" y="6.5">(宇治山田商業)</text></g>
<g id="p61" transform="translate(1260.5 1221.2)"><text class="no" transform="translate(108 6.5) scale(.85 1)">61.</text><text class="nm" x="126.6 152.7 191 216.5 243" y="6.5">柴山こころ</text><text class="nm" x="265 285 383.7 402" y="6.5">(高田)</text></g>
<g id="p62" transform="translate(1260.5 1272.2)"><text class="no" transform="translate(108 6.5) scale(.85 1)">62.</text><text class="nm" x="126.6 174 208 243" y="6.5">南陽菜乃</text><text class="nm" x="265 285 383.7 402" y="6.5">(高田)</text></g>
<g id="p63" transform="translate(1260.5 1323.2)"><text class="no" transform="translate(108 6.5) scale(.85 1)">63.</text><text class="nm" x="126.6 177 243" y="6.5">森田桜</text><text class="nm" x="265 285 383.7 402" y="6.5">(伊勢)</text></g>
<g id="p64" transform="translate(1260.5 1374.3)"><text class="no" transform="translate(108 6.5) scale(.85 1)">64.</text><text class="nm" x="126.6 161 208 243" y="6.5">山尾和泉</text><text class="nm" x="265 285 383.7 402" y="6.5">(津東)</text></g>
<g id="p65" transform="translate(1260.5 1425.3)"><text class="no" transform="translate(108 6.5) scale(.85 1)">65.</text><text class="nm" x="126.6 152.7 191 216.5 243" y="6.5">新谷萌菜美</text><text class="nm" x="265 285 383.7 402" y="6.5">(尾鷲)</text></g>
<g id="p66" transform="translate(1260.5 1476.4)"><text class="no" transform="translate(108 6.5) scale(.85 1)">66.</text><text class="nm" x="126.6 191.5 243" y="6.5">林望愛</text><text class="nm" x="265 285 304.7 324.5 344.2 363.9 383.7 402" y="6.5">(宇治山田商業)</text></g>
<g id="p67" transform="translate(1260.5 1527.4)"><text class="no" transform="translate(108 6.5) scale(.85 1)">67.</text><text class="nm" x="126.6 152.7 191 216.5 243" y="6.5">梅本りずむ</text><text class="nm" x="265 285 334.35 383.7 402" y="6.5">(皇學館)</text></g>
<g id="p68" transform="translate(1260.5 1578.4)"><text class="no" transform="translate(108 6.5) scale(.85 1)">68.</text><text class="nm" x="126.6 161 208 243" y="6.5">岡田実優</text><text class="nm" x="265 285 383.7 402" y="6.5">(久居)</text></g>
<g id="p69" transform="translate(1260.5 1629.5)"><text class="no" transform="translate(108 6.5) scale(.85 1)">69.</text><text class="nm" x="126.6 161 208 243" y="6.5">橋本朱莉</text><text class="nm" x="265 285 383.7 402" y="6.5">(高田)</text></g>
<g id="p70" transform="translate(1260.5 1680.5)"><text class="no" transform="translate(108 6.5) scale(.85 1)">70.</text><text class="nm" x="126.6 174 208 243" y="6.5">東比奈果</text><text class="nm" x="265 285 317.9 350.8 383.7 402" y="6.5">(松阪商業)</text></g>
<g id="p71" transform="translate(1260.5 1731.6)"><text class="no" transform="translate(108 6.5) scale(.85 1)">71.</text><text class="nm" x="126.6 161 208 243" y="6.5">森下寧音</text><text class="nm" x="265 334.35 402" y="6.5">(暁)</text></g>
<g id="p72" transform="translate(1260.5 1782.6)"><text class="no" transform="translate(108 6.5) scale(.85 1)">72.</text><text class="nm" x="126.6 161 208 243" y="6.5">廣出実莉</text><text class="nm" x="265 285 334.35 383.7 402" y="6.5">(皇學館)</text></g>
<g id="p73" transform="translate(1260.5 1833.6)"><text class="no" transform="translate(108 6.5) scale(.85 1)">73.</text><text class="nm" x="126.6 161 208 243" y="6.5">奥田乃愛</text><text class="nm" x="265 285 383.7 402" y="6.5">(高田)</text></g>
<g id="p74" transform="translate(1260.5 1884.7)"><text class="no" transform="translate(108 6.5) scale(.85 1)">74.</text><text class="nm" x="126.6 161 208 243" y="6.5">川端美羽</text><text class="nm" x="265 285 383.7 402" y="6.5">(尾鷲)</text></g>
<g id="p75" transform="translate(1260.5 1935.7)"><text class="no" transform="translate(108 6.5) scale(.85 1)">75.</text><text class="nm" x="126.6 177 243" y="6.5">近藤伶</text><text class="nm" x="265 285 383.7 402" y="6.5">(津東)</text></g>
<g id="p76" transform="translate(1260.5 1986.8)"><text class="no" transform="translate(108 6.5) scale(.85 1)">76.</text><text class="nm" x="126.6 161 208 243" y="6.5">伊藤緋珠</text><text class="nm" x="265 285 383.7 402" y="6.5">(松阪)</text></g>
<g id="p77" transform="translate(1260.5 2037.8)"><text class="no" transform="translate(108 6.5) scale(.85 1)">77.</text><text class="nm" x="126.6 161 208 243" y="6.5">石咲綾菜</text><text class="nm" x="265 334.35 402" y="6.5">(暁)</text></g>
<g id="p78" transform="translate(1260.5 2088.8)"><text class="no" transform="translate(108 6.5) scale(.85 1)">78.</text><text class="nm" x="126.6 161 208 243" y="6.5">奥川七海</text><text class="nm" x="265 285 317.9 350.8 383.7 402" y="6.5">(松阪商業)</text></g>
<g id="p79" transform="translate(1260.5 2139.9)"><text class="no" transform="translate(108 6.5) scale(.85 1)">79.</text><text class="nm" x="126.6 161 208 243" y="6.5">中野智保</text><text class="nm" x="265" y="6.5">(</text><text class="nm sm" x="285 301.45 317.9 334.35 350.8 367.25 383.7" y="5.8">いなべ総合学園</text><text class="nm" x="402" y="6.5">)</text></g>
<g id="p80" transform="translate(1260.5 2190.9)"><text class="no" transform="translate(108 6.5) scale(.85 1)">80.</text><text class="nm" x="126.6 152.7 191 216.5 243" y="6.5">吉田亜衣伽</text><text class="nm" x="265 285 383.7 402" y="6.5">(明野)</text></g>
<g id="p81" transform="translate(1260.5 2242)"><text class="no" transform="translate(108 6.5) scale(.85 1)">81.</text><text class="nm" x="126.6 177 243" y="6.5">吉居要</text><text class="nm" x="265 285 334.35 383.7 402" y="6.5">(皇學館)</text></g>
</g>
<g id="playoff-players">
<g id="f1"><text class="nm" x="776.7" y="2298.5">岡</text><text x="778" y="2347.7" font-size="13.5" text-anchor="middle">(皇學館)</text></g>
<g id="f2"><text class="nm" x="843.3 843.3" y="2287 2310">森下</text><text x="844" y="2347.7" font-size="13.5" text-anchor="middle">(暁)</text></g>
<g id="f3"><text class="nm" x="909.3" y="2298.5">岡</text><text x="909.7" y="2347.7" font-size="13.5" text-anchor="middle">(皇學館)</text></g>
<g id="f4"><text class="nm" x="975.7 975.7" y="2287 2310">廣瀬</text><text x="975.4" y="2347.7" font-size="13.5" text-anchor="middle">(皇學館)</text></g>
</g>
<g id="notes">
<text x="91" y="2407" font-size="16" textLength="157" lengthAdjust="spacingAndGlyphs">※全試合正規ルール。</text>
<text x="91" y="2426" font-size="16" textLength="404" lengthAdjust="spacingAndGlyphs">※敗者審判です。最初の審判は当日会場にて告知します。</text>
</g>
</svg>
